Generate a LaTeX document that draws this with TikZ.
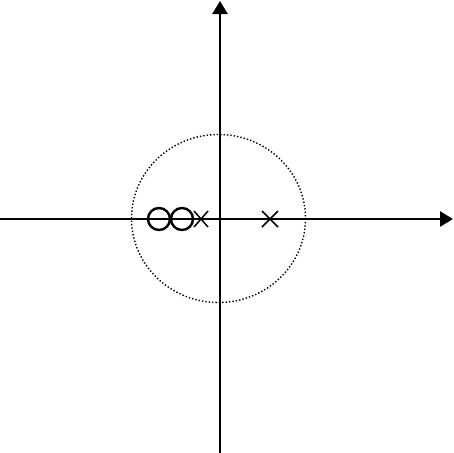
\documentclass[tikz,border=0pt]{standalone}
\usetikzlibrary{arrows.meta}
\begin{document}
\begin{tikzpicture}[x=1pt,y=-1pt,
  axis/.style={line width=2.6pt,-{Triangle[length=13pt,width=15pt]}},
  zero/.style={circle,draw,line width=2.4pt,minimum size=22pt,inner sep=0pt},
  pole/.style={line width=1.5pt}]
\useasboundingbox (0,0) rectangle (453,453);
\coordinate (xl) at (0,219);
\coordinate (xr) at (453,219);
\coordinate (yb) at (220,453);
\coordinate (yt) at (220,1);
\draw[axis] (xl) -- (xr);
\draw[axis] (yb) -- (yt);
\coordinate (c) at (218.5,218.5);
\draw[dotted,line width=1.4pt] (c) ellipse [x radius=87,y radius=84];
\node[zero] (z1) at (159,219) {};
\node[zero] (z2) at (182,219) {};
\coordinate (p1) at (201,219);
\coordinate (p2) at (270,219);
\draw[pole] ([shift={(-7,-8)}]p1) -- ([shift={(7,8)}]p1) ([shift={(-7,8)}]p1) -- ([shift={(7,-8)}]p1);
\draw[pole] ([shift={(-8,-8)}]p2) -- ([shift={(8,8)}]p2) ([shift={(-8,8)}]p2) -- ([shift={(8,-8)}]p2);
\end{tikzpicture}
\end{document}
